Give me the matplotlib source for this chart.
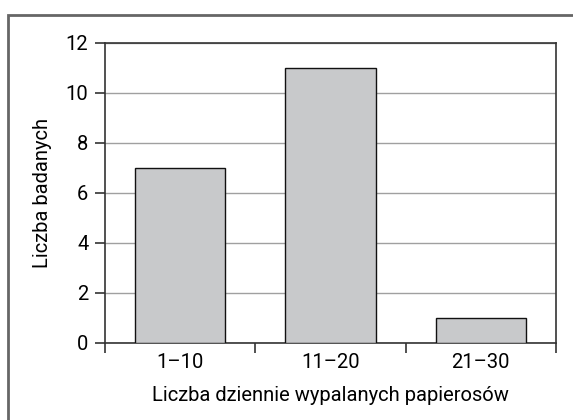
import matplotlib
matplotlib.use("Agg")
import matplotlib.pyplot as plt
from matplotlib.patches import Rectangle

kategorie = ["1–10", "11–20", "21–30"]
liczba_badanych = [7, 11, 1]
y_ticks = [0, 2, 4, 6, 8, 10, 12]

plt.rcParams['font.family'] = ['Roboto', 'DejaVu Sans']

fig = plt.figure(figsize=(5.73, 4.2), dpi=100)
W, H = 573, 420
ax = fig.add_axes([105 / W, 1 - 343 / H, 451 / W, 300 / H])

# ramka wokol wykresu
fig.patches.append(Rectangle((8 / W, -0.1), 1.2, 1 - 15 / H + 0.1,
                             transform=fig.transFigure, fill=False,
                             edgecolor="#666666", linewidth=2.0))

x = range(len(kategorie))
ax.bar(x, liczba_badanych, width=0.6, color="#c8c9cb",
       edgecolor="#111111", linewidth=1.0, zorder=3)

ax.set_xlim(-0.5, 2.5)
ax.set_ylim(0, 12)
ax.set_yticks(y_ticks)
ax.set_xticks([-0.5, 0.5, 1.5, 2.5])
ax.set_xticklabels([])
ax.set_xticks(list(x), minor=True)
ax.set_xticklabels(kategorie, minor=True)
ax.tick_params(axis="x", which="minor", length=0, pad=7, labelsize=14.5)
ax.tick_params(axis="x", which="major", length=7, width=1.2, color="#333333")
ax.tick_params(axis="y", length=7, width=1.2, color="#333333", pad=5, labelsize=14.5)

ax.yaxis.grid(True, color="#a0a0a0", linewidth=1.0, zorder=0)
ax.set_axisbelow(True)
for s in ax.spines.values():
    s.set_color("#333333")
    s.set_linewidth(1.2)

ax.set_ylabel("Liczba badanych", fontsize=14.5, labelpad=10)
ax.set_xlabel("Liczba dziennie wypalanych papierosów", fontsize=14.5, labelpad=10)

fig.savefig("out.png", dpi=100)
